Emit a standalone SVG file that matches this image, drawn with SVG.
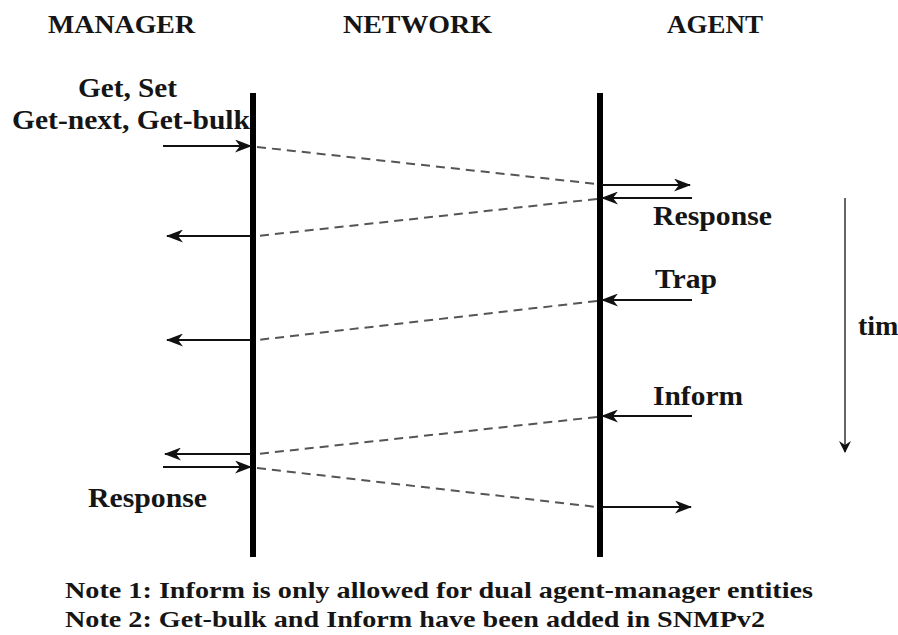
<svg xmlns="http://www.w3.org/2000/svg" width="898" height="635" viewBox="0 0 898 635">
<style>
.txt{font-family:Liberation Serif,Tinos,Nimbus Roman,Nimbus Roman No9 L,Times New Roman,Times,FreeSerif,DejaVu Serif,Noto Serif,serif;font-weight:bold;fill:#151515}
.life{stroke:#000;stroke-width:6}
.arr{stroke:#111;stroke-width:2;fill:none}
.dash{stroke:#555;stroke-width:2;stroke-dasharray:9,6;fill:none}
.time{stroke:#333;stroke-width:1.5;fill:none}
</style>
<defs>
<marker id="ah" markerWidth="17" markerHeight="13" refX="16" refY="6.5" orient="auto" markerUnits="userSpaceOnUse">
<path d="M0,0 L17,6.5 L0,13 L5,6.5 Z" fill="#111"/>
</marker>
<marker id="ah2" markerWidth="12" markerHeight="18" refX="11" refY="6" orient="auto" markerUnits="userSpaceOnUse">
<path d="M0,0 L12,6 L0,12 L4,6 Z" fill="#111"/>
</marker>
</defs>
<g class="txt">
<g id="manager">
<text x="48" y="33" font-size="26" textLength="147" lengthAdjust="spacingAndGlyphs">MANAGER</text>
<line class="life" x1="253" y1="93" x2="253" y2="557"/>
</g>
<g id="network">
<text x="343" y="33" font-size="26" textLength="149" lengthAdjust="spacingAndGlyphs">NETWORK</text>
</g>
<g id="agent">
<text x="667" y="33" font-size="26" textLength="96" lengthAdjust="spacingAndGlyphs">AGENT</text>
<line class="life" x1="600" y1="93" x2="600" y2="557"/>
</g>
<g id="labels">
<text x="78" y="97" font-size="28" textLength="99" lengthAdjust="spacingAndGlyphs">Get, Set</text>
<text x="12" y="129" font-size="28" textLength="238" lengthAdjust="spacingAndGlyphs">Get-next, Get-bulk</text>
<text x="653" y="225" font-size="28" textLength="119" lengthAdjust="spacingAndGlyphs">Response</text>
<text x="655" y="288" font-size="28" textLength="62" lengthAdjust="spacingAndGlyphs">Trap</text>
<text x="653" y="405" font-size="28" textLength="90" lengthAdjust="spacingAndGlyphs">Inform</text>
<text x="88" y="507" font-size="28" textLength="119" lengthAdjust="spacingAndGlyphs">Response</text>
<text x="858" y="335" font-size="28">tim</text>
</g>
<g id="notes">
<text x="65" y="598" font-size="24" textLength="748" lengthAdjust="spacingAndGlyphs">Note 1: Inform is only allowed for dual agent-manager entities</text>
<text x="65" y="627" font-size="24" textLength="700" lengthAdjust="spacingAndGlyphs">Note 2: Get-bulk and Inform have been added in SNMPv2</text>
</g>
</g>
<g id="connectors">
<line class="arr" x1="163" y1="146" x2="251" y2="146" marker-end="url(#ah)"/>
<line class="dash" x1="257" y1="147" x2="597" y2="184"/>
<line class="arr" x1="602" y1="185" x2="690" y2="185" marker-end="url(#ah)"/>
<line class="arr" x1="692" y1="198" x2="602" y2="198" marker-end="url(#ah)"/>
<line class="dash" x1="597" y1="199" x2="257" y2="236"/>
<line class="arr" x1="251" y1="236" x2="167" y2="236" marker-end="url(#ah)"/>
<line class="arr" x1="692" y1="300" x2="602" y2="300" marker-end="url(#ah)"/>
<line class="dash" x1="597" y1="301" x2="257" y2="340"/>
<line class="arr" x1="251" y1="340" x2="167" y2="340" marker-end="url(#ah)"/>
<line class="arr" x1="692" y1="416" x2="602" y2="416" marker-end="url(#ah)"/>
<line class="dash" x1="597" y1="417" x2="257" y2="454"/>
<line class="arr" x1="251" y1="454" x2="165" y2="454" marker-end="url(#ah)"/>
<line class="arr" x1="163" y1="467" x2="251" y2="467" marker-end="url(#ah)"/>
<line class="dash" x1="257" y1="468" x2="597" y2="507"/>
<line class="arr" x1="602" y1="507" x2="691" y2="507" marker-end="url(#ah)"/>
<line class="time" x1="845" y1="198" x2="845" y2="452" marker-end="url(#ah2)"/>
</g>
</svg>
